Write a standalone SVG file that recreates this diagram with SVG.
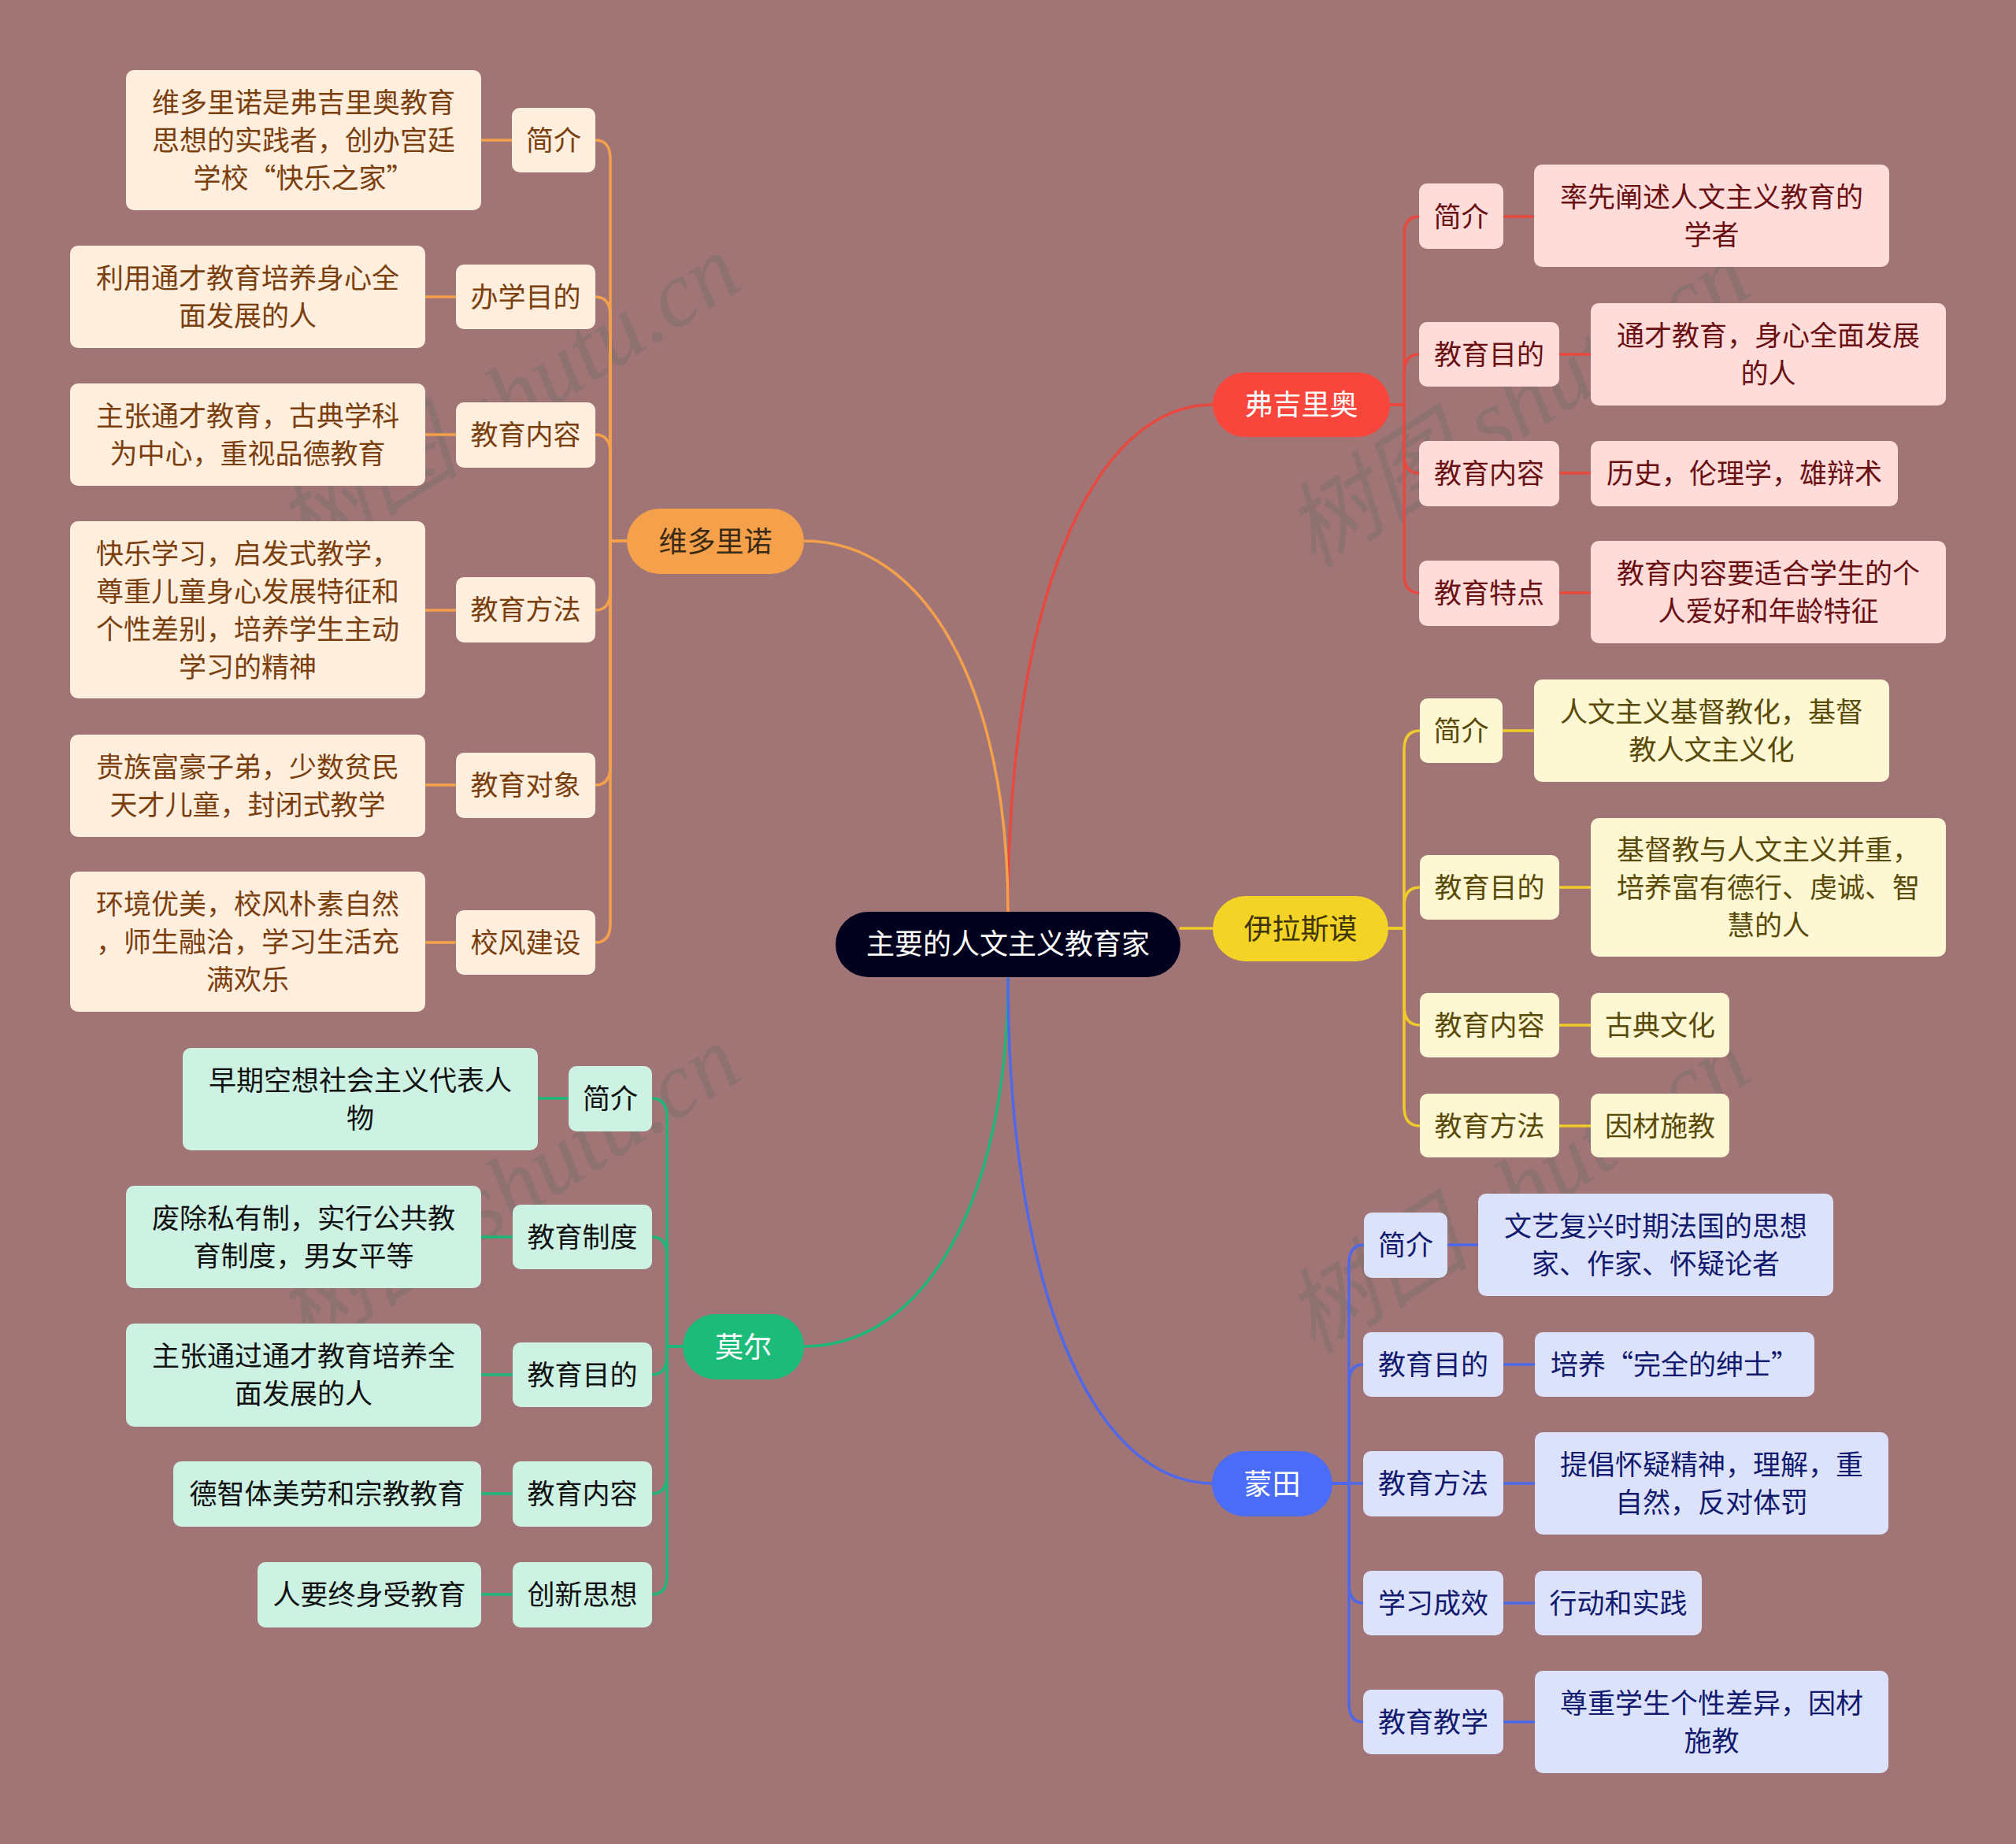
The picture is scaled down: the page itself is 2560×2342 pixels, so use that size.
<svg xmlns="http://www.w3.org/2000/svg" width="2560" height="2342" viewBox="0 0 2560 2342">
<style>
text{font-family:"Noto Sans CJK SC","Noto Sans",sans-serif;text-anchor:middle;dominant-baseline:central;font-size:35px}
g:not(#watermarks) text{transform:translateY(-3px)}
.main text{font-size:36px}
.root text{font-size:36px;fill:#ffffff}
.wm{font-family:"Liberation Serif","Noto Sans CJK SC",serif;font-size:118px;fill:#6a6a6a;fill-opacity:0.34;font-style:italic}
.rM rect{fill:#F9463D}.rM text{fill:#ffffff}
.rS rect{fill:#FEDCDA}.rS text{fill:#6B1012}
.oM rect{fill:#F5A04B}.oM text{fill:#3B2A14}
.oS rect{fill:#FEEEDE}.oS text{fill:#7B3F0E}
.yM rect{fill:#F3D326}.yM text{fill:#3E3406}
.yS rect{fill:#FDF7D3}.yS text{fill:#5A4A08}
.bM rect{fill:#4A6CF7}.bM text{fill:#ffffff}
.bS rect{fill:#DDE2FB}.bS text{fill:#111A6E}
.gM rect{fill:#1DBB7A}.gM text{fill:#ffffff}
.gS rect{fill:#CDF1E2}.gS text{fill:#111111}
#connectors path{fill:none;stroke-width:3.5;stroke-linecap:round}
.cr{stroke:#E8483E}.co{stroke:#F5A04B}.cy{stroke:#EFCB2A}.cb{stroke:#4F68EA}.cg{stroke:#1DB57A}
.lf{stroke-width:4.5}
</style>
<rect width="2560" height="2342" fill="#A17575"/>
<g id="watermarks">
<text class="wm" transform="translate(645,506) rotate(-32)">树图 shutu.cn</text>
<text class="wm" transform="translate(1927,514) rotate(-32)">树图 shutu.cn</text>
<text class="wm" transform="translate(645,1510) rotate(-32)">树图 shutu.cn</text>
<text class="wm" transform="translate(1927,1512) rotate(-32)">树图 shutu.cn</text>
</g>
<g id="connectors">
<path class="cr" stroke-width="4" d="M1280 1158 C1280 772 1384 514 1540 514"/>
<path class="co" stroke-width="4" d="M1280 1158 C1280 875 1176 687 1021 687"/>
<path class="cg" stroke-width="4" d="M1280 1241 C1280 1522 1176 1710 1021 1710"/>
<path class="cb" stroke-width="4" d="M1280 1241 C1280 1627 1384 1884 1540 1884"/>
<path class="cy" stroke-width="4" d="M1499 1179 H1540"/>
<path class="cr" d="M1765 514 H1783 V299 Q1783 275 1802 275"/>
<path class="cr" d="M1765 514 H1783 V474 Q1783 450 1802 450"/>
<path class="cr" d="M1765 514 H1783 V577 Q1783 601 1802 601"/>
<path class="cr" d="M1765 514 H1783 V729 Q1783 753 1802 753"/>
<path class="cr lf" d="M1909 275 H1948"/>
<path class="cr lf" d="M1980 450 H2020"/>
<path class="cr lf" d="M1980 601 H2020"/>
<path class="cr lf" d="M1980 753 H2020"/>
<path class="cy" d="M1763 1179 H1783 V952 Q1783 928 1803 928"/>
<path class="cy" d="M1763 1179 H1783 V1151 Q1783 1127 1803 1127"/>
<path class="cy" d="M1763 1179 H1783 V1278 Q1783 1302 1803 1302"/>
<path class="cy" d="M1763 1179 H1783 V1406 Q1783 1430 1803 1430"/>
<path class="cy lf" d="M1908 928 H1948"/>
<path class="cy lf" d="M1980 1127 H2020"/>
<path class="cy lf" d="M1980 1302 H2020"/>
<path class="cy lf" d="M1980 1430 H2020"/>
<path class="cb" d="M1692 1884 H1713 V1605 Q1713 1581 1732 1581"/>
<path class="cb" d="M1692 1884 H1713 V1757 Q1713 1733 1731 1733"/>
<path class="cb" d="M1692 1884 H1731"/>
<path class="cb" d="M1692 1884 H1713 V2012 Q1713 2036 1731 2036"/>
<path class="cb" d="M1692 1884 H1713 V2163 Q1713 2187 1731 2187"/>
<path class="cb lf" d="M1838 1581 H1877"/>
<path class="cb lf" d="M1909 1733 H1949"/>
<path class="cb lf" d="M1909 1884 H1949"/>
<path class="cb lf" d="M1909 2036 H1949"/>
<path class="cb lf" d="M1909 2187 H1949"/>
<path class="co" d="M796 687 H775 V202 Q775 178 756 178"/>
<path class="co" d="M796 687 H775 V401 Q775 377 756 377"/>
<path class="co" d="M796 687 H775 V576 Q775 552 756 552"/>
<path class="co" d="M796 687 H775 V751 Q775 775 756 775"/>
<path class="co" d="M796 687 H775 V973 Q775 997 756 997"/>
<path class="co" d="M796 687 H775 V1173 Q775 1197 756 1197"/>
<path class="co lf" d="M650 178 H611"/>
<path class="co lf" d="M579 377 H540"/>
<path class="co lf" d="M579 552 H540"/>
<path class="co lf" d="M579 775 H540"/>
<path class="co lf" d="M579 997 H540"/>
<path class="co lf" d="M579 1197 H540"/>
<path class="cg" d="M867 1710 H847 V1419 Q847 1395 828 1395"/>
<path class="cg" d="M867 1710 H847 V1595 Q847 1571 828 1571"/>
<path class="cg" d="M867 1710 H847 V1722 Q847 1746 828 1746"/>
<path class="cg" d="M867 1710 H847 V1873 Q847 1897 828 1897"/>
<path class="cg" d="M867 1710 H847 V2001 Q847 2025 828 2025"/>
<path class="cg lf" d="M722 1395 H683"/>
<path class="cg lf" d="M651 1571 H611"/>
<path class="cg lf" d="M651 1746 H611"/>
<path class="cg lf" d="M651 1897 H611"/>
<path class="cg lf" d="M651 2025 H611"/>
</g>
<g id="root" class="root"><rect x="1061" y="1158" width="438" height="83" rx="41.5" fill="#03021E"/><text x="1280" y="1199">主要的人文主义教育家</text></g>

<g id="n-fjla" class="main rM"><rect x="1540" y="473" width="225" height="82" rx="41"/><text x="1652.5" y="514">弗吉里奥</text></g>
<g id="n-f1" class="rS"><rect x="1802" y="233" width="107" height="83" rx="10"/><text x="1855.5" y="275">简介</text></g>
<g id="n-f1l" class="rS"><rect x="1948" y="209" width="451" height="130" rx="10"/><text x="2173.5" y="250">率先阐述人文主义教育的</text><text x="2173.5" y="298">学者</text></g>
<g id="n-f2" class="rS"><rect x="1802" y="409" width="178" height="82" rx="10"/><text x="1891" y="450">教育目的</text></g>
<g id="n-f2l" class="rS"><rect x="2020" y="385" width="451" height="130" rx="10"/><text x="2245.5" y="426">通才教育，身心全面发展</text><text x="2245.5" y="474">的人</text></g>
<g id="n-f3" class="rS"><rect x="1802" y="560" width="178" height="83" rx="10"/><text x="1891" y="601.5">教育内容</text></g>
<g id="n-f3l" class="rS"><rect x="2020" y="560" width="390" height="83" rx="10"/><text x="2215" y="601.5">历史，伦理学，雄辩术</text></g>
<g id="n-f4" class="rS"><rect x="1802" y="712" width="178" height="83" rx="10"/><text x="1891" y="753.5">教育特点</text></g>
<g id="n-f4l" class="rS"><rect x="2020" y="687" width="451" height="130" rx="10"/><text x="2245.5" y="728">教育内容要适合学生的个</text><text x="2245.5" y="776">人爱好和年龄特征</text></g>

<g id="n-ylsm" class="main yM"><rect x="1540" y="1138" width="223" height="83" rx="41.5"/><text x="1651.5" y="1179.5">伊拉斯谟</text></g>
<g id="n-y1" class="yS"><rect x="1803" y="887" width="105" height="82" rx="10"/><text x="1855.5" y="928">简介</text></g>
<g id="n-y1l" class="yS"><rect x="1948" y="863" width="451" height="130" rx="10"/><text x="2173.5" y="904">人文主义基督教化，基督</text><text x="2173.5" y="952">教人文主义化</text></g>
<g id="n-y2" class="yS"><rect x="1803" y="1086" width="177" height="82" rx="10"/><text x="1891.5" y="1127">教育目的</text></g>
<g id="n-y2l" class="yS"><rect x="2020" y="1039" width="451" height="176" rx="10"/><text x="2245.5" y="1079">基督教与人文主义并重，</text><text x="2245.5" y="1127">培养富有德行、虔诚、智</text><text x="2245.5" y="1175">慧的人</text></g>
<g id="n-y3" class="yS"><rect x="1803" y="1261" width="177" height="82" rx="10"/><text x="1891.5" y="1302">教育内容</text></g>
<g id="n-y3l" class="yS"><rect x="2020" y="1261" width="176" height="82" rx="10"/><text x="2108" y="1302">古典文化</text></g>
<g id="n-y4" class="yS"><rect x="1803" y="1389" width="177" height="81" rx="10"/><text x="1891.5" y="1430">教育方法</text></g>
<g id="n-y4l" class="yS"><rect x="2020" y="1389" width="176" height="81" rx="10"/><text x="2108" y="1430">因材施教</text></g>

<g id="n-mt" class="main bM"><rect x="1539" y="1843" width="153" height="83" rx="41.5"/><text x="1615.5" y="1884.5">蒙田</text></g>
<g id="n-b1" class="bS"><rect x="1732" y="1540" width="106" height="83" rx="10"/><text x="1785" y="1581.5">简介</text></g>
<g id="n-b1l" class="bS"><rect x="1877" y="1516" width="451" height="130" rx="10"/><text x="2102.5" y="1557">文艺复兴时期法国的思想</text><text x="2102.5" y="1605">家、作家、怀疑论者</text></g>
<g id="n-b2" class="bS"><rect x="1731" y="1692" width="178" height="82" rx="10"/><text x="1820" y="1733">教育目的</text></g>
<g id="n-b2l" class="bS"><rect x="1949" y="1692" width="355" height="82" rx="10"/><text x="2126.5" y="1733">培养“完全的绅士”</text></g>
<g id="n-b3" class="bS"><rect x="1731" y="1843" width="178" height="83" rx="10"/><text x="1820" y="1884.5">教育方法</text></g>
<g id="n-b3l" class="bS"><rect x="1949" y="1819" width="449" height="130" rx="10"/><text x="2173.5" y="1860">提倡怀疑精神，理解，重</text><text x="2173.5" y="1908">自然，反对体罚</text></g>
<g id="n-b4" class="bS"><rect x="1731" y="1995" width="178" height="82" rx="10"/><text x="1820" y="2036">学习成效</text></g>
<g id="n-b4l" class="bS"><rect x="1949" y="1995" width="212" height="82" rx="10"/><text x="2055" y="2036">行动和实践</text></g>
<g id="n-b5" class="bS"><rect x="1731" y="2146" width="178" height="82" rx="10"/><text x="1820" y="2187">教育教学</text></g>
<g id="n-b5l" class="bS"><rect x="1949" y="2122" width="449" height="130" rx="10"/><text x="2173.5" y="2163">尊重学生个性差异，因材</text><text x="2173.5" y="2211">施教</text></g>

<g id="n-wdln" class="main oM"><rect x="796" y="646" width="225" height="83" rx="41.5"/><text x="908.5" y="687.5">维多里诺</text></g>
<g id="n-o1" class="oS"><rect x="650" y="137" width="106" height="82" rx="10"/><text x="703" y="178">简介</text></g>
<g id="n-o1l" class="oS"><rect x="160" y="89" width="451" height="178" rx="10"/><text x="385.5" y="130">维多里诺是弗吉里奥教育</text><text x="385.5" y="178">思想的实践者，创办宫廷</text><text x="385.5" y="226">学校“快乐之家”</text></g>
<g id="n-o2" class="oS"><rect x="579" y="336" width="177" height="82" rx="10"/><text x="667.5" y="377">办学目的</text></g>
<g id="n-o2l" class="oS"><rect x="89" y="312" width="451" height="130" rx="10"/><text x="314.5" y="353">利用通才教育培养身心全</text><text x="314.5" y="401">面发展的人</text></g>
<g id="n-o3" class="oS"><rect x="579" y="511" width="177" height="83" rx="10"/><text x="667.5" y="552.5">教育内容</text></g>
<g id="n-o3l" class="oS"><rect x="89" y="487" width="451" height="130" rx="10"/><text x="314.5" y="528">主张通才教育，古典学科</text><text x="314.5" y="576">为中心，重视品德教育</text></g>
<g id="n-o4" class="oS"><rect x="579" y="733" width="177" height="83" rx="10"/><text x="667.5" y="774.5">教育方法</text></g>
<g id="n-o4l" class="oS"><rect x="89" y="662" width="451" height="225" rx="10"/><text x="314.5" y="703">快乐学习，启发式教学，</text><text x="314.5" y="751">尊重儿童身心发展特征和</text><text x="314.5" y="799">个性差别，培养学生主动</text><text x="314.5" y="847">学习的精神</text></g>
<g id="n-o5" class="oS"><rect x="579" y="956" width="177" height="83" rx="10"/><text x="667.5" y="997.5">教育对象</text></g>
<g id="n-o5l" class="oS"><rect x="89" y="933" width="451" height="130" rx="10"/><text x="314.5" y="974">贵族富豪子弟，少数贫民</text><text x="314.5" y="1022">天才儿童，封闭式教学</text></g>
<g id="n-o6" class="oS"><rect x="579" y="1156" width="177" height="82" rx="10"/><text x="667.5" y="1197">校风建设</text></g>
<g id="n-o6l" class="oS"><rect x="89" y="1107" width="451" height="178" rx="10"/><text x="314.5" y="1148">环境优美，校风朴素自然</text><text x="314.5" y="1196">，师生融洽，学习生活充</text><text x="314.5" y="1244">满欢乐</text></g>

<g id="n-me" class="main gM"><rect x="867" y="1669" width="154" height="83" rx="41.5"/><text x="944" y="1710.5">莫尔</text></g>
<g id="n-g1" class="gS"><rect x="722" y="1354" width="106" height="83" rx="10"/><text x="775" y="1395.5">简介</text></g>
<g id="n-g1l" class="gS"><rect x="232" y="1331" width="451" height="130" rx="10"/><text x="457.5" y="1372">早期空想社会主义代表人</text><text x="457.5" y="1420">物</text></g>
<g id="n-g2" class="gS"><rect x="651" y="1530" width="177" height="82" rx="10"/><text x="739.5" y="1571">教育制度</text></g>
<g id="n-g2l" class="gS"><rect x="160" y="1506" width="451" height="130" rx="10"/><text x="385.5" y="1547">废除私有制，实行公共教</text><text x="385.5" y="1595">育制度，男女平等</text></g>
<g id="n-g3" class="gS"><rect x="651" y="1705" width="177" height="82" rx="10"/><text x="739.5" y="1746">教育目的</text></g>
<g id="n-g3l" class="gS"><rect x="160" y="1681" width="451" height="131" rx="10"/><text x="385.5" y="1722">主张通过通才教育培养全</text><text x="385.5" y="1770">面发展的人</text></g>
<g id="n-g4" class="gS"><rect x="651" y="1856" width="177" height="83" rx="10"/><text x="739.5" y="1897.5">教育内容</text></g>
<g id="n-g4l" class="gS"><rect x="220" y="1856" width="391" height="83" rx="10"/><text x="415.5" y="1897.5">德智体美劳和宗教教育</text></g>
<g id="n-g5" class="gS"><rect x="651" y="1984" width="177" height="83" rx="10"/><text x="739.5" y="2025.5">创新思想</text></g>
<g id="n-g5l" class="gS"><rect x="327" y="1984" width="284" height="83" rx="10"/><text x="469" y="2025.5">人要终身受教育</text></g>
</svg>
